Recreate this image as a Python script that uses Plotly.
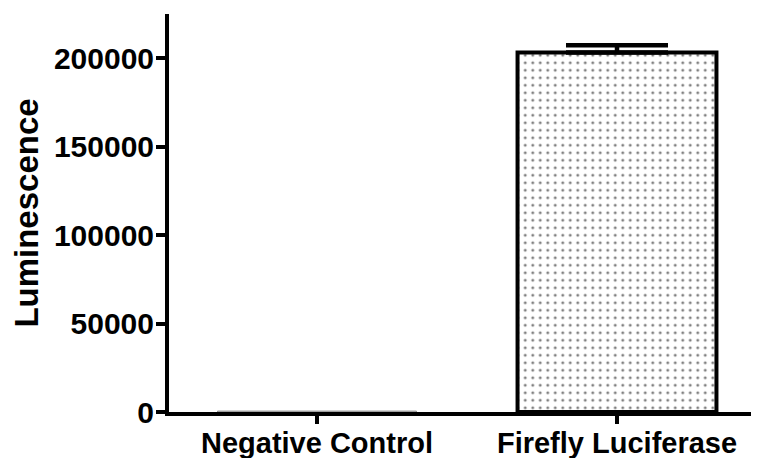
import plotly.graph_objects as go

categories = ["Negative Control", "Firefly Luciferase"]
values = [500, 203300]
errors_up = [0, 4100]
y_tick_vals = [0, 50000, 100000, 150000, 200000]
y_tick_text = ["0", "50000", "100000", "150000", "200000"]

outline_colors = ["#888888", "black"]
outline_widths = [1, 4]

fig = go.Figure()
for i, cat in enumerate(categories):
    err = dict(type="data", symmetric=False, array=[errors_up[i]], arrayminus=[0],
               color="black", thickness=4.5, width=51, visible=errors_up[i] > 0)
    fig.add_trace(go.Bar(
        x=[i],
        y=[values[i]],
        name=cat,
        width=0.663,
        marker=dict(
            color="white",
            line=dict(color=outline_colors[i], width=outline_widths[i]),
            pattern=dict(shape=".", size=7.5, solidity=0.12, fgcolor="black", bgcolor="white", fillmode="overlay"),
        ),
        error_y=err,
    ))

font = "Liberation Sans"
# page has an 8px body margin; figure is sized/positioned to compensate
fig.update_layout(
    width=751, height=450,
    margin=dict(l=161, r=0, t=6, b=46),
    paper_bgcolor="white", plot_bgcolor="white",
    showlegend=False,
    barmode="overlay",
)
fig.update_xaxes(
    range=[-0.4933, 1.4733],
    tickvals=[0, 1], ticktext=categories,
    showline=True, linecolor="black", linewidth=4,
    ticks="outside", ticklen=8, tickwidth=4, tickcolor="black",
    tickfont=dict(family=font, size=29, color="black", weight="bold"),
    ticklabelstandoff=-6,
    showgrid=False, zeroline=False, automargin=False,
)
fig.update_yaxes(
    range=[0, 225050],
    tickvals=y_tick_vals, ticktext=y_tick_text,
    showline=True, linecolor="black", linewidth=4,
    ticks="outside", ticklen=9, tickwidth=4, tickcolor="black",
    tickfont=dict(family=font, size=30, color="black", weight="bold"),
    ticklabelstandoff=-4,
    title=dict(text="Luminescence", font=dict(family=font, size=33, color="black", weight="bold"), standoff=26),
    showgrid=False, zeroline=False, automargin=False,
)

fig.write_html("out.html")
